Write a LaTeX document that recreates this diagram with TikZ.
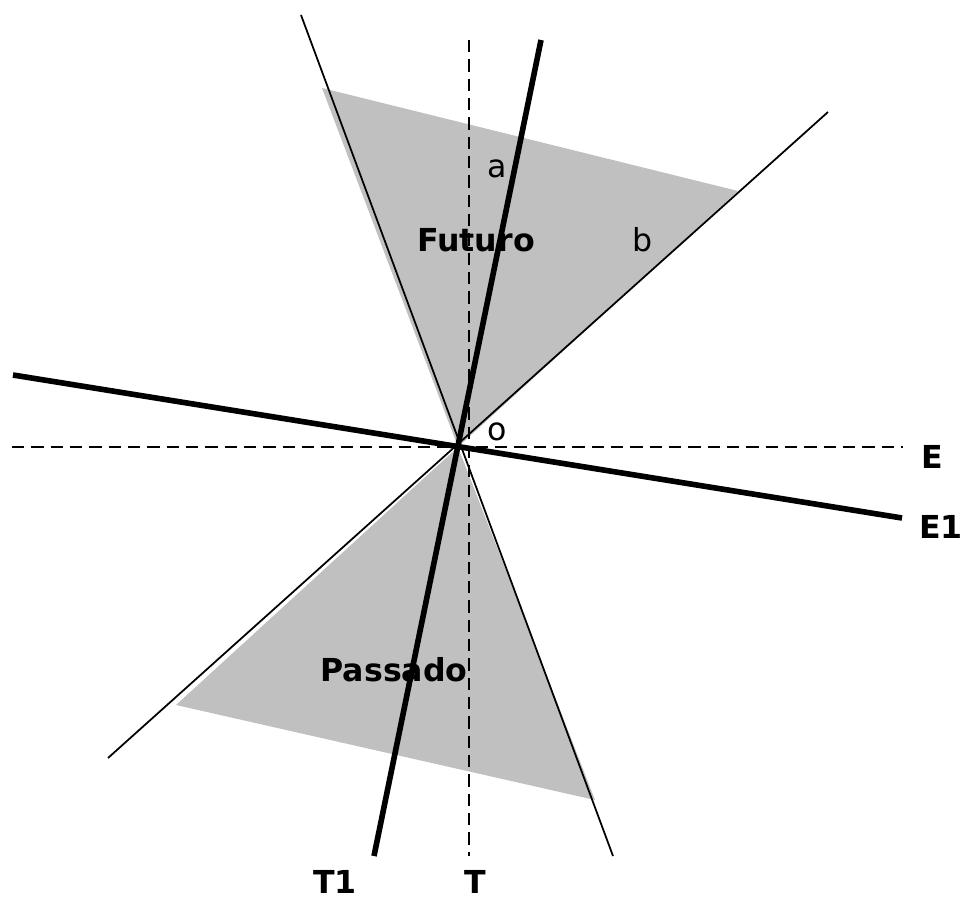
\documentclass[tikz,border=0pt]{standalone}
\usepackage{fontspec}
\setmainfont{DejaVu Sans}
\usetikzlibrary{calc}
\definecolor{conegrey}{HTML}{C0C0C0}
\tikzset{
  axisline/.style={line width=1pt, dash pattern=on 7pt off 4pt},
  worldline/.style={line width=3.2pt},
  lightline/.style={line width=1pt},
  cone/.style={fill=conegrey, draw=none},
  lbl/.style={font=\fontsize{18}{20}\selectfont, inner sep=0pt},
  lblb/.style={lbl, font=\fontsize{18}{20}\selectfont\bfseries},
}
\begin{document}
\begin{tikzpicture}[x=0.02cm, y=-0.02cm]
\useasboundingbox (0,0) rectangle (963,899);
% light cones
\fill[cone] (322,88) -- (738,191) -- (458,447) -- cycle;
\fill[cone] (176,705) -- (595,800) -- (458,447) -- cycle;
% reference frame
\coordinate (Eleft) at (12,447);
\coordinate (Eend) at (903,447);
\coordinate (Ttop) at (469,40);
\coordinate (Tend) at (469,856);
\draw[axisline] (Eleft) -- (Eend);
\draw[axisline] (Ttop) -- (Tend);
% light lines
\coordinate (Lone) at (301,15);
\coordinate (Lonee) at (613,856);
\coordinate (Ltwo) at (828,112);
\coordinate (Ltwoe) at (108,758);
\draw[lightline] (Lone) -- (Lonee);
\draw[lightline] (Ltwo) -- (Ltwoe);
% moving frame
\coordinate (Tonetop) at (541,40);
\coordinate (Toneend) at (374,856);
\coordinate (Eoneleft) at (13,375);
\coordinate (Eoneend) at (902,518);
\draw[worldline] (Tonetop) -- (Toneend);
\draw[worldline] (Eoneleft) -- (Eoneend);
% labels
\node[lbl] (a) at (497,169) {a};
\node[lbl] (b) at (643,240) {b};
\node[lbl] (o) at (497,432) {o};
\node[lblb] (futuro) at (476,240) {Futuro};
\node[lblb] (passado) at (394,670) {Passado};
\node[lblb] (E) at (932,457) {E};
\node[lblb] (E1) at (941,527) {E1};
\node[lblb] (T1) at (335,882) {T1};
\node[lblb] (T) at (475,882) {T};
\end{tikzpicture}
\end{document}
